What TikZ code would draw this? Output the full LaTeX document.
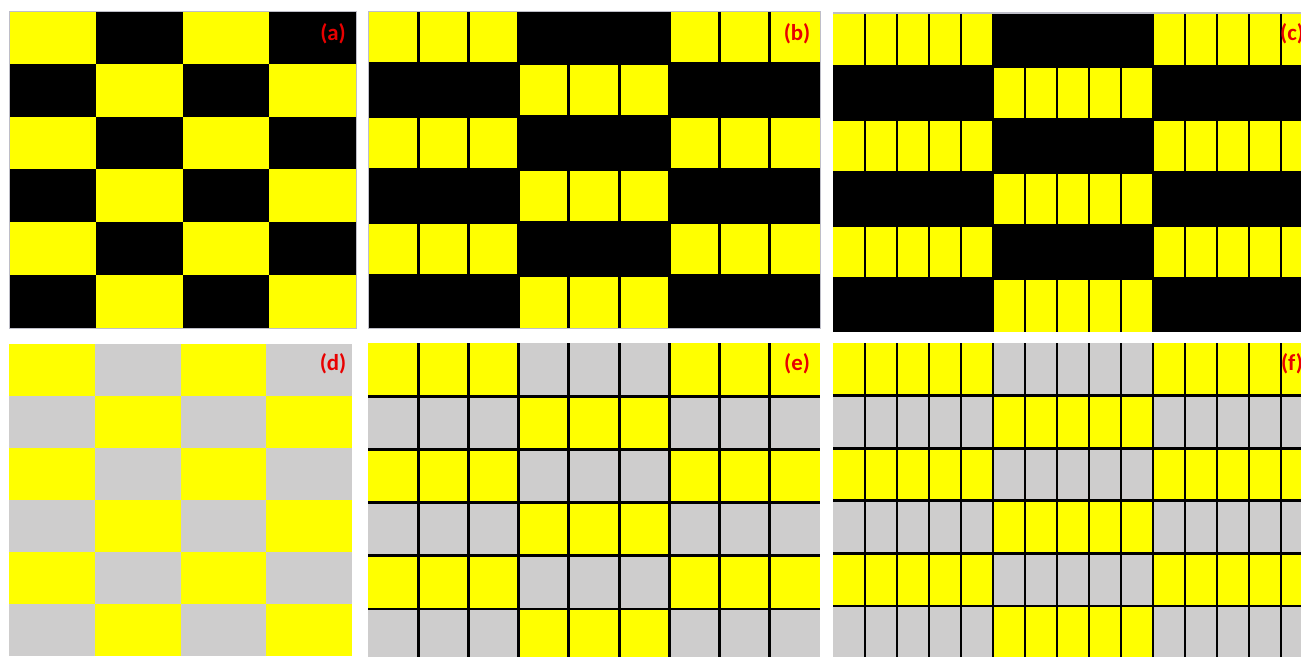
\documentclass[tikz,border=0pt]{standalone}
\usepackage{fontspec}
\setmainfont{Carlito}
\definecolor{yel}{RGB}{255,255,0}
\definecolor{gry}{RGB}{206,205,205}
\definecolor{lab}{RGB}{232,0,0}
\definecolor{frm}{RGB}{190,190,200}
\tikzset{
  gridline/.style={line width=1.6pt,black},
  panellabel/.style={text=lab,font=\fontsize{13}{15}\selectfont\bfseries,inner sep=0pt},
  frame/.style={draw=frm,line width=0.5pt}
}
\begin{document}
\begin{tikzpicture}[x=0.02cm,y=-0.02cm]
\useasboundingbox (0,0) rectangle (1301,656);
\clip (0,0) rectangle (1301,656);
% ---------- panel (a)
\foreach \i in {0,...,3}{\foreach \j in {0,...,5}{
  \pgfmathtruncatemacro\p{mod(\i+\j,2)}
  \ifnum\p=0 \def\cc{yel}\else\def\cc{black}\fi
  \fill[\cc] ({9+86.75*\i},{11+52.83*\j}) rectangle ++(86.75,52.83);
}}
\draw[frame] (9,11) rectangle (356,328);
% ---------- panel (b)
\foreach \i in {0,...,2}{\foreach \j in {0,...,5}{
  \pgfmathtruncatemacro\p{mod(\i+\j,2)}
  \ifnum\p=0 \def\cc{yel}\else\def\cc{black}\fi
  \fill[\cc] ({368+150.67*\i},{11+52.83*\j}) rectangle ++(150.67,52.83);
}}
\foreach \k in {1,...,8}{\draw[gridline] ({368+50.22*\k},11) -- ({368+50.22*\k},328);}
\foreach \j in {1,...,5}{\draw[gridline] (368,{11+52.83*\j}) -- (820,{11+52.83*\j});}
\draw[frame] (368,11) rectangle (820,328);
% ---------- panel (c)
\foreach \i in {0,...,2}{\foreach \j in {0,...,5}{
  \pgfmathtruncatemacro\p{mod(\i+\j,2)}
  \ifnum\p=0 \def\cc{yel}\else\def\cc{black}\fi
  \fill[\cc] ({833+160*\i},{13+53.17*\j}) rectangle ++(160,53.17);
}}
\foreach \k in {1,...,14}{\draw[gridline] ({833+32*\k},13) -- ({833+32*\k},332);}
\foreach \j in {1,...,5}{\draw[gridline] (833,{13+53.17*\j}) -- (1313,{13+53.17*\j});}
\draw[frm,line width=1pt] (833,13) -- (1313,13);
% ---------- panel (d)
\foreach \i in {0,...,3}{\foreach \j in {0,...,5}{
  \pgfmathtruncatemacro\p{mod(\i+\j,2)}
  \ifnum\p=0 \def\cc{yel}\else\def\cc{gry}\fi
  \fill[\cc] ({9+85.75*\i},{344+52*\j}) rectangle ++(85.75,52);
}}
% ---------- panel (e)
\foreach \i in {0,...,2}{\foreach \j in {0,...,5}{
  \pgfmathtruncatemacro\p{mod(\i+\j,2)}
  \ifnum\p=0 \def\cc{yel}\else\def\cc{gry}\fi
  \fill[\cc] ({368+150.67*\i},{343+53.2*\j}) rectangle ++(150.67,53.2);
}}
\foreach \k in {1,...,8}{\draw[gridline] ({368+50.22*\k},343) -- ({368+50.22*\k},662);}
\foreach \j in {1,...,5}{\draw[gridline] (368,{343+53.2*\j}) -- (820,{343+53.2*\j});}
% ---------- panel (f)
\foreach \i in {0,...,2}{\foreach \j in {0,...,5}{
  \pgfmathtruncatemacro\p{mod(\i+\j,2)}
  \ifnum\p=0 \def\cc{yel}\else\def\cc{gry}\fi
  \fill[\cc] ({833+160*\i},{343+52.6*\j}) rectangle ++(160,52.6);
}}
\foreach \k in {1,...,14}{\draw[gridline] ({833+32*\k},343) -- ({833+32*\k},662);}
\foreach \j in {1,...,5}{\draw[gridline] (833,{343+52.6*\j}) -- (1313,{343+52.6*\j});}
% ---------- labels
\node[panellabel] (la) at (333,34) {(a)};
\node[panellabel] (lb) at (797,34) {(b)};
\node[panellabel] (lc) at (1292,34) {(c)};
\node[panellabel] (ld) at (333,364) {(d)};
\node[panellabel] (le) at (797,364) {(e)};
\node[panellabel] (lf) at (1292,364) {(f)};
\end{tikzpicture}
\end{document}
